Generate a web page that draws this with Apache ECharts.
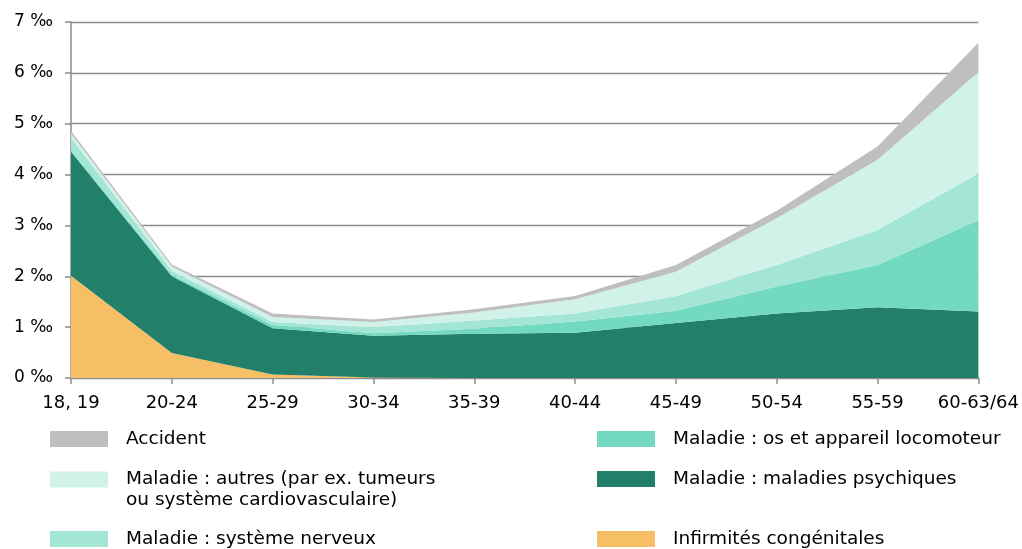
<!DOCTYPE html>
<html><head><meta charset="utf-8">
<script src="https://cdn.jsdelivr.net/npm/echarts@6/dist/echarts.min.js"></script>
<style>html,body{margin:0;padding:0;background:#fff}#c{width:1022px;height:549px}</style>
</head><body><div id="c"></div>
<script>
const categories = ['18, 19','20-24','25-29','30-34','35-39','40-44','45-49','50-54','55-59','60-63/64'];
const yTicks = [0,1,2,3,4,5,6,7];
const infirmites = [2.01,0.49,0.07,0.01,0,0,0,0,0,0];
const psychiques = [2.44,1.51,0.91,0.82,0.87,0.89,1.08,1.27,1.39,1.31];
const locomoteur = [0.03,0.03,0.06,0.05,0.10,0.22,0.24,0.53,0.83,1.79];
const nerveux = [0.25,0.08,0.06,0.12,0.16,0.16,0.29,0.42,0.69,0.92];
const autres = [0.08,0.08,0.10,0.10,0.16,0.28,0.48,0.92,1.38,1.99];
const accident = [0.05,0.04,0.07,0.05,0.06,0.06,0.13,0.15,0.26,0.58];

const N_ACC='Accident', N_AUT='Maladie : autres (par ex. tumeurs ou système cardiovasculaire)',
      N_NER='Maladie : système nerveux', N_LOC='Maladie : os et appareil locomoteur',
      N_PSY='Maladie : maladies psychiques', N_INF='Infirmités congénitales';
const FONT='DejaVu Sans';
const chart = echarts.init(document.getElementById('c'), null, {renderer:'canvas'});
function area(name, data, color){
  return {name, type:'line', stack:'t', data, symbol:'none', showSymbol:false,
    lineStyle:{width:0}, areaStyle:{color, opacity:1}, itemStyle:{color}, emphasis:{disabled:true}};
}
function leg(name, left, top, extra){
  return Object.assign({data:[name], left, top, padding:0, orient:'vertical', itemWidth:58, itemHeight:16,
    icon:'rect', selectedMode:false,
    textStyle:{fontFamily:FONT, fontSize:18.5, color:'#000', lineHeight:20, padding:[0,0,0,13]}}, extra||{});
}
chart.setOption({
  animation:false,
  grid:{left:71, right:43, top:22, bottom:171, containLabel:false},
  legend:[
    leg(N_ACC,50,429),
    leg(N_AUT,50,448,{formatter:()=> ' \nMaladie : autres (par ex. tumeurs\nou système cardiovasculaire)',
       textStyle:{fontFamily:FONT, fontSize:18.5, color:'#000', lineHeight:21, padding:[0,0,0,13]}}),
    leg(N_NER,50,529),
    leg(N_LOC,597,429),
    leg(N_PSY,597,469),
    leg(N_INF,597,529)
  ],
  xAxis:{type:'category', data:categories, boundaryGap:false,
    axisLine:{lineStyle:{color:'#8c8c8c', width:1.5}},
    axisTick:{show:true, interval:0, length:6, lineStyle:{color:'#8c8c8c', width:1.5}, alignWithLabel:true},
    axisLabel:{interval:0, hideOverlap:false, fontFamily:FONT, fontSize:18, color:'#000', margin:16}},
  yAxis:{type:'value', min:yTicks[0], max:yTicks[yTicks.length-1], interval:1,
    axisLine:{show:true, lineStyle:{color:'#8c8c8c', width:1.5}},
    axisTick:{show:true, length:6, lineStyle:{color:'#8c8c8c', width:1.5}},
    splitLine:{lineStyle:{color:'#8c8c8c', width:1.3}},
    axisLabel:{fontFamily:FONT, fontSize:17, color:'#000', margin:18, formatter:v=>v+' ‰'}},
  series:[
    area(N_INF, infirmites, '#f6bf66'),
    area(N_PSY, psychiques, '#217f6a'),
    area(N_LOC, locomoteur, '#74d9c1'),
    area(N_NER, nerveux, '#a3e6d5'),
    area(N_AUT, autres, '#d1f2e9'),
    area(N_ACC, accident, '#bfbfbf')
  ]
});
</script></body></html>
